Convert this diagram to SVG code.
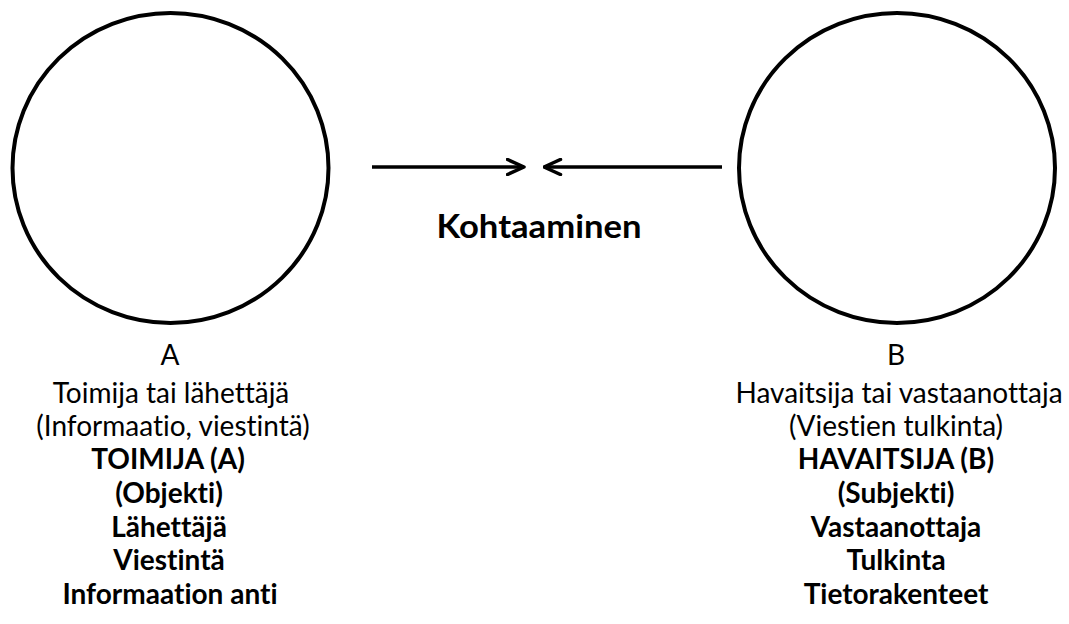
<svg xmlns="http://www.w3.org/2000/svg" width="1069" height="624" viewBox="0 0 1069 624">
  <style>
    .ring { fill: none; stroke: #000; stroke-width: 4; }
    .link { fill: none; stroke: #000; stroke-width: 3.5; }
    text { font-family: Lato, "Liberation Sans", sans-serif; font-size: 28px; fill: #000; text-anchor: middle; font-variant-ligatures: none; }
    .b { font-weight: bold; }
    .title { font-size: 32px; }
  </style>
  <defs>
    <marker id="chev" viewBox="0 0 20 18" refX="18.5" refY="9" markerWidth="20" markerHeight="18" markerUnits="userSpaceOnUse" orient="auto">
      <path d="M2,1.5 L18.5,9 L2,16.5" fill="none" stroke="#000" stroke-width="3.5" stroke-linecap="round" stroke-linejoin="round"/>
    </marker>
  </defs>

  <g id="node-a">
    <ellipse class="ring" cx="170.5" cy="168" rx="158" ry="155"/>
    <text x="170" y="365">A</text>
    <text x="171" y="403">Toimija tai lähettäjä</text>
    <text x="173" y="436">(Informaatio, viestintä)</text>
    <text class="b" x="168" y="469">TOIMIJA (A)</text>
    <text class="b" x="169" y="503">(Objekti)</text>
    <text class="b" x="169" y="537">Lähettäjä</text>
    <text class="b" x="169" y="570">Viestintä</text>
    <text class="b" x="170" y="604">Informaation anti</text>
  </g>

  <g id="node-b">
    <ellipse class="ring" cx="897" cy="168" rx="158" ry="155"/>
    <text x="896" y="365">B</text>
    <text x="899" y="403">Havaitsija tai vastaanottaja</text>
    <text x="896" y="436">(Viestien tulkinta)</text>
    <text class="b" x="896" y="469">HAVAITSIJA (B)</text>
    <text class="b" x="896" y="503">(Subjekti)</text>
    <text class="b" x="896" y="537">Vastaanottaja</text>
    <text class="b" x="896" y="570">Tulkinta</text>
    <text class="b" x="896" y="604">Tietorakenteet</text>
  </g>

  <g id="node-meeting">
    <text class="b title" x="539" y="238" textLength="205" lengthAdjust="spacingAndGlyphs">Kohtaaminen</text>
  </g>

  <g id="connectors">
    <line class="link" x1="372" y1="167" x2="524" y2="167" marker-end="url(#chev)"/>
    <line class="link" x1="722" y1="167" x2="544" y2="167" marker-end="url(#chev)"/>
  </g>
</svg>
